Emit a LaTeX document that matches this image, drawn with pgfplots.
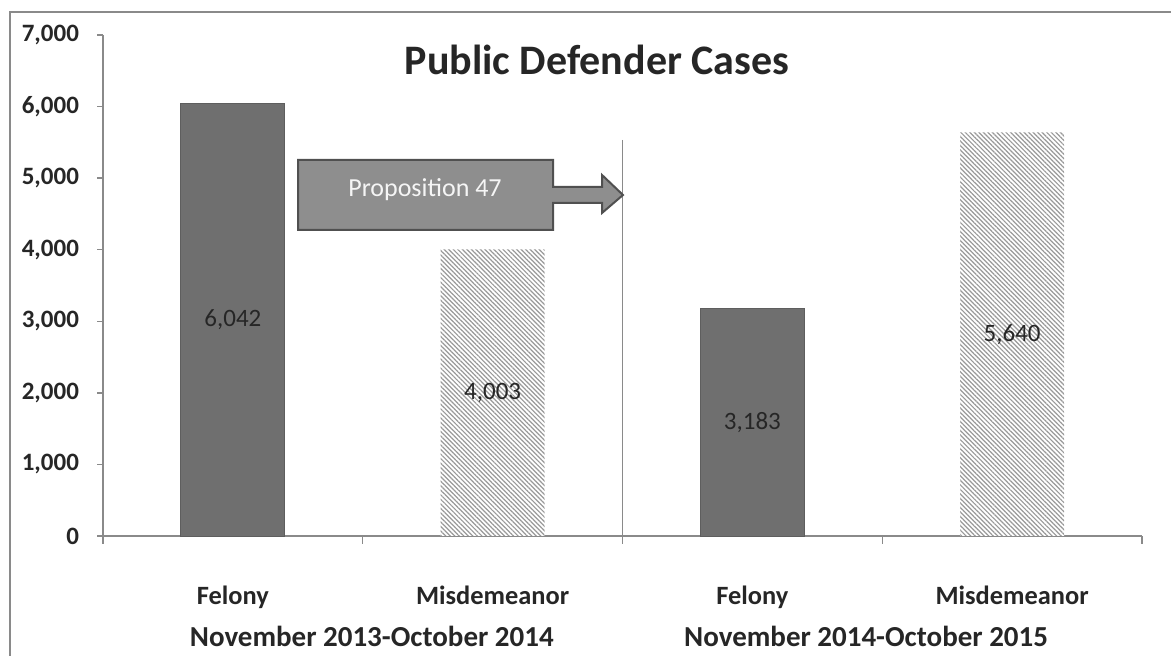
\documentclass[border=0pt]{standalone}
\usepackage{pgfplots}
\pgfplotsset{compat=1.18}
\usepackage{fontspec}
\setmainfont{Carlito}
\usetikzlibrary{patterns.meta}
\definecolor{felony}{HTML}{6F6F6F}
\definecolor{axisgray}{HTML}{8A8A8A}
\definecolor{boxfill}{HTML}{8E8E8E}
\definecolor{boxdraw}{HTML}{505050}
\definecolor{txt}{HTML}{262626}
\begin{document}
\begin{tikzpicture}
\useasboundingbox (0,0) rectangle (585.5pt,328pt);
% outer frame (visible top and left edges)
\draw[axisgray, line width=0.6pt] (5pt,0) -- (5pt,322pt) -- (585.5pt,322pt);
\begin{axis}[
  at={(51.5pt,60pt)}, anchor=south west,
  scale only axis, width=519.5pt, height=250.5pt,
  xmin=-0.5, xmax=3.5, ymin=0, ymax=7000,
  axis x line*=bottom, axis y line*=left,
  axis line style={-, draw=axisgray, line width=0.7pt},
  ytick={0,1000,...,7000},
  tick align=outside,
  major tick length=3pt,
  ytick style={draw=axisgray, line width=0.7pt},
  /pgf/number format/1000 sep={,},
  yticklabel style={font=\bfseries\fontsize{12.5}{14}\selectfont, text=txt,
    /pgf/number format/assume math mode=true, xshift=-5.5pt},
  xtick={0,1,2,3},
  xticklabels={Felony,Misdemeanor,Felony,Misdemeanor},
  major x tick style={draw=none},
  minor xtick={-0.5,0.5,1.5,2.5,3.5},
  minor tick length=4pt,
  minor x tick style={draw=axisgray, line width=0.7pt},
  xticklabel style={font=\bfseries\fontsize{13.2}{15}\selectfont, text=txt,
    text height=9pt, text depth=3pt, anchor=center, yshift=-28.5pt},
  ybar, bar width=52pt,
  visualization depends on={y \as \rawy},
  nodes near coords={\pgfmathprintnumber[assume math mode=true,1000 sep={,}]{\pgfplotspointmeta}},
  every node near coord/.append style={anchor=center, font=\fontsize{12.5}{14}\selectfont, text=txt,
    shift={(axis direction cs:0,-\rawy/2)}},
  clip=false,
]
\addplot[bar shift=0pt, fill=felony, draw=felony!85!black] coordinates {(0,6042) (2,3183)};
\addplot[bar shift=0pt, draw=none, fill=white,
  postaction={pattern={Lines[angle=-45,distance=1.6pt,line width=0.6pt]}, pattern color=gray!80}]
  coordinates {(1,4003) (3,5640)};
% group separator
\draw[axisgray, line width=0.7pt] (axis cs:1.5,5533) -- (axis cs:1.5,0);
% period labels
\node[font=\bfseries\fontsize{14.5}{16}\selectfont, text=txt] at ([yshift=-50pt]axis cs:0.535,0) {November 2013-October 2014};
\node[font=\bfseries\fontsize{14.5}{16}\selectfont, text=txt] at ([yshift=-50pt]axis cs:2.438,0) {November 2014-October 2015};
\end{axis}
% title
\node[font=\bfseries\fontsize{21}{24}\selectfont, text=txt] at (298.5pt,298pt) {Public Defender Cases};
% Proposition 47 arrow
\draw[fill=boxfill, draw=boxdraw, line width=1pt, line join=miter]
  (149pt,213pt) -- (276.5pt,213pt) -- (276.5pt,226.5pt) -- (301pt,226.5pt) -- (301pt,221.5pt)
  -- (311.5pt,230.5pt) -- (301pt,240.5pt) -- (301pt,234.5pt) -- (276.5pt,234.5pt)
  -- (276.5pt,248pt) -- (149pt,248pt) -- cycle;
\node[font=\fontsize{13}{15}\selectfont, text=white!92!gray] at (212.5pt,233pt) {Proposition 47};
\end{tikzpicture}
\end{document}
